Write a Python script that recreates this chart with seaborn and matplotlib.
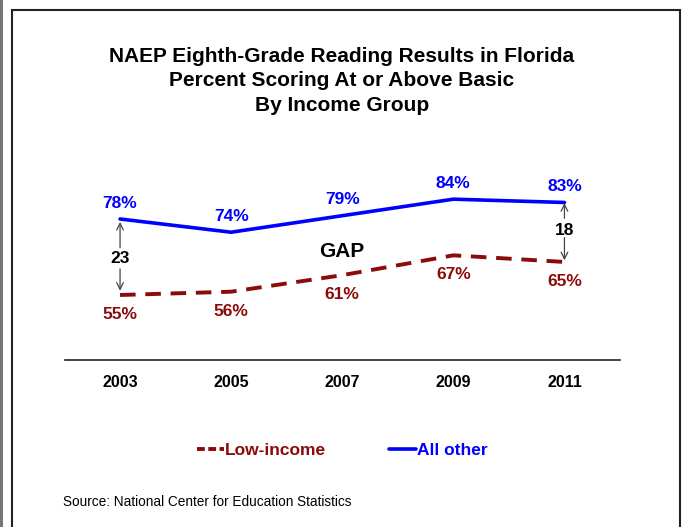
import matplotlib
matplotlib.use("Agg")
import matplotlib.pyplot as plt
import seaborn as sns
import pandas as pd
from matplotlib.patches import Rectangle
from matplotlib.lines import Line2D

years = ["2003", "2005", "2007", "2009", "2011"]
low_income = [55, 56, 61, 67, 65]
all_other = [78, 74, 79, 84, 83]
series_names = ["Low-income", "All other"]
gap_start = 23
gap_end = 18

sns.set_theme(style="white")
plt.rcParams["font.family"] = ["Liberation Sans", "DejaVu Sans"]
plt.rcParams["text.color"] = "black"

RED = "#8B0A0A"
BLUE = "#0000FF"

df = pd.DataFrame({
    "x": list(range(len(years))) * 2,
    "value": low_income + all_other,
    "group": [series_names[0]] * len(years) + [series_names[1]] * len(years),
})

fig = plt.figure(figsize=(6.84, 5.27), dpi=100)
W, H = 684, 527
ax = fig.add_axes([64.5 / W, (H - 360) / H, (620 - 64.5) / W, (360 - 150) / H])

sns.lineplot(data=df[df.group == series_names[1]], x="x", y="value", ax=ax,
             color=BLUE, linewidth=2.6, legend=False)
sns.lineplot(data=df[df.group == series_names[0]], x="x", y="value", ax=ax,
             color=RED, linewidth=2.8, legend=False)
ax.lines[1].set_dashes([4, 2.5])

ax.set_xlim(-0.5, len(years) - 0.5)
ax.set_ylim(35.33, 98.88)
for s in ["top", "right", "left"]:
    ax.spines[s].set_visible(False)
ax.spines["bottom"].set_color("#222222")
ax.spines["bottom"].set_linewidth(1.2)
ax.set_yticks([])
ax.set_xticks(range(len(years)))
ax.set_xticklabels(years, fontsize=11.5, fontweight="bold", color="black")
ax.tick_params(axis="x", length=0, pad=10.5)
ax.set_xlabel("")
ax.set_ylabel("")

for i, (lo, hi) in enumerate(zip(low_income, all_other)):
    ax.annotate(f"{hi}%", (i, hi), xytext=(0, 11.5), textcoords="offset points",
                ha="center", va="center", fontsize=12.5, fontweight="bold", color=BLUE)
    ax.annotate(f"{lo}%", (i, lo), xytext=(0, -14), textcoords="offset points",
                ha="center", va="center", fontsize=12.5, fontweight="bold", color=RED)

ax.text(2, 68.2, "GAP", ha="center", va="center", fontsize=15, fontweight="bold", color="black")

arrow_kw = dict(arrowstyle="->", color="#444444", lw=0.9, shrinkA=0, shrinkB=0)
# 2003 gap
x0 = 0
mid0 = (low_income[0] + all_other[0]) / 2 - 0.4
ax.text(x0, mid0, str(gap_start), ha="center", va="center", fontsize=12.5, fontweight="bold")
ax.annotate("", xy=(x0, all_other[0] - 0.9), xytext=(x0, mid0 + 3.2), arrowprops=arrow_kw)
ax.annotate("", xy=(x0, low_income[0] + 1.3), xytext=(x0, mid0 - 3.2), arrowprops=arrow_kw)
# 2011 gap
x4 = len(years) - 1
mid4 = (low_income[-1] + all_other[-1]) / 2 + 0.6
ax.text(x4, mid4, str(gap_end), ha="center", va="center", fontsize=12.5, fontweight="bold")
ax.annotate("", xy=(x4, all_other[-1] - 0.2), xytext=(x4, mid4 + 3.6), arrowprops=arrow_kw)
ax.annotate("", xy=(x4, low_income[-1] + 0.5), xytext=(x4, mid4 - 2.2), arrowprops=arrow_kw)

fig.text(342 / W, 1 - 81 / H,
         "NAEP Eighth-Grade Reading Results in Florida\nPercent Scoring At or Above Basic\nBy Income Group",
         ha="center", va="center", fontsize=15, fontweight="bold", linespacing=1.35,
         color="black")

handles = [
    Line2D([], [], color=RED, lw=2.8, dashes=[2.0, 0.9]),
    Line2D([], [], color=BLUE, lw=2.6),
]
leg = fig.legend(handles, series_names, loc="center", bbox_to_anchor=(342.5 / W, 1 - 450 / H),
                 ncol=2, frameon=False, handlelength=1.55, handletextpad=0.08,
                 columnspacing=3.6, prop={"weight": "bold", "size": 12.5})
for t, c in zip(leg.get_texts(), [RED, BLUE]):
    t.set_color(c)

fig.text(63 / W, 1 - 502 / H, "Source: National Center for Education Statistics",
         ha="left", va="center", fontsize=9.8, color="black")

# border
fig.patches.append(Rectangle((12 / W, -0.05), (680 - 12) / W, (H - 10) / H + 0.05,
                             transform=fig.transFigure, fill=False, edgecolor="#222222",
                             lw=1.5, figure=fig))
fig.patches.append(Rectangle((0, 0), 2.5 / W, 1, transform=fig.transFigure,
                             facecolor="#777777", edgecolor="none", figure=fig))

fig.savefig("out.png", dpi=100)
